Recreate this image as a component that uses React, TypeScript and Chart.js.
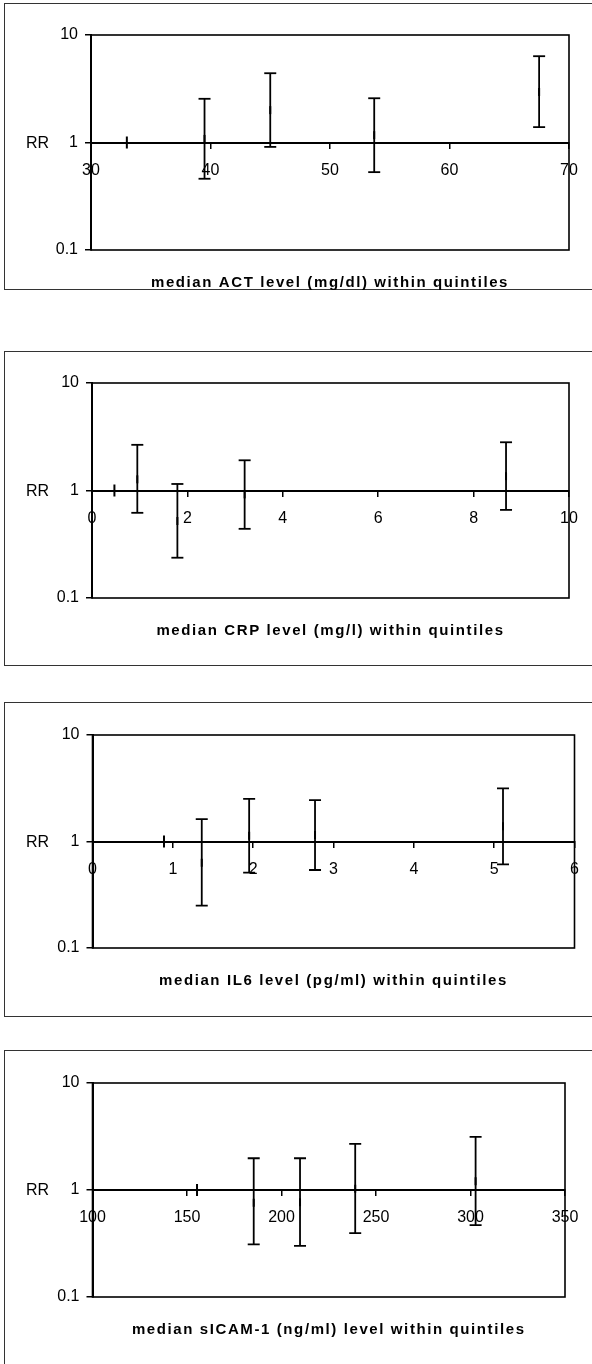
import React, { useEffect, useRef } from "react";
import { Chart, registerables } from "chart.js";

Chart.register(...registerables);

// ---------- data ----------
const yTicks = [0.1, 1, 10];

const actTitle = "median ACT level (mg/dl) within quintiles";
const actXTicks = [30, 40, 50, 60, 70];
const actX = [33, 39.5, 45, 53.7, 67.5];
const actRR = [1, 1.08, 2.0, 1.17, 2.95];
const actLo = [null, 0.46, 0.91, 0.53, 1.39];
const actHi = [null, 2.55, 4.41, 2.58, 6.35];

const crpTitle = "median CRP level (mg/l) within quintiles";
const crpXTicks = [0, 2, 4, 6, 8, 10];
const crpX = [0.47, 0.95, 1.79, 3.2, 8.68];
const crpRR = [1, 1.27, 0.52, 0.92, 1.36];
const crpLo = [null, 0.62, 0.237, 0.44, 0.66];
const crpHi = [null, 2.66, 1.15, 1.91, 2.81];

const il6Title = "median IL6 level (pg/ml) within quintiles";
const il6XTicks = [0, 1, 2, 3, 4, 5, 6];
const il6X = [0.89, 1.36, 1.95, 2.77, 5.11];
const il6RR = [1, 0.63, 1.13, 1.15, 1.39];
const il6Lo = [null, 0.25, 0.51, 0.54, 0.61];
const il6Hi = [null, 1.62, 2.51, 2.45, 3.15];

const icamTitle = "median sICAM-1 (ng/ml) level within quintiles";
const icamXTicks = [100, 150, 200, 250, 300, 350];
const icamX = [155.3, 185.3, 209.8, 239, 302.7];
const icamRR = [1, 0.76, 0.77, 1.03, 1.21];
const icamLo = [null, 0.31, 0.3, 0.395, 0.47];
const icamHi = [null, 1.98, 1.98, 2.7, 3.14];

// ---------- layout ----------
const FONT = 'Arial, "Liberation Sans", sans-serif';

type PanelCfg = {
  title: string;
  xTicks: number[];
  x: number[];
  rr: number[];
  lo: (number | null)[];
  hi: (number | null)[];
  canvasTop: number;
  canvasH: number;
  plotTop: number;
  plotBottom: number;
  plotLeft: number;
  plotRight: number;
};

const panels: PanelCfg[] = [
  { title: actTitle, xTicks: actXTicks, x: actX, rr: actRR, lo: actLo, hi: actHi,
    canvasTop: 0, canvasH: 330, plotTop: 35, plotBottom: 250, plotLeft: 91, plotRight: 569 },
  { title: crpTitle, xTicks: crpXTicks, x: crpX, rr: crpRR, lo: crpLo, hi: crpHi,
    canvasTop: 340, canvasH: 330, plotTop: 383, plotBottom: 598, plotLeft: 92, plotRight: 569 },
  { title: il6Title, xTicks: il6XTicks, x: il6X, rr: il6RR, lo: il6Lo, hi: il6Hi,
    canvasTop: 690, canvasH: 340, plotTop: 735, plotBottom: 948, plotLeft: 92.5, plotRight: 574.5 },
  { title: icamTitle, xTicks: icamXTicks, x: icamX, rr: icamRR, lo: icamLo, hi: icamHi,
    canvasTop: 1040, canvasH: 324, plotTop: 1083, plotBottom: 1297, plotLeft: 92.5, plotRight: 565 },
];

const frames = [
  { top: 3, height: 287 },
  { top: 351, height: 315 },
  { top: 702, height: 315 },
  { top: 1050, height: 400 },
];

function Panel({ cfg }: { cfg: PanelCfg }) {
  const ref = useRef<HTMLCanvasElement | null>(null);
  useEffect(() => {
    const canvas = ref.current;
    if (!canvas) return;

    const points = cfg.x.map((x, i) => ({ x, y: cfg.rr[i] }));
    const errDatasets = cfg.x
      .map((x, i) => ({ x, lo: cfg.lo[i], hi: cfg.hi[i] }))
      .filter((d) => d.lo !== null && d.hi !== null)
      .map((d) => ({
        type: "scatter" as const,
        data: [
          { x: d.x, y: d.lo as number },
          { x: d.x, y: d.hi as number },
        ],
        showLine: true,
        borderColor: "#000",
        borderWidth: 1.8,
        pointStyle: "line" as const,
        pointRadius: 6,
        pointHoverRadius: 6,
        pointBorderColor: "#000",
        pointBorderWidth: 1.8,
        pointBackgroundColor: "#000",
      }));

    const boxPlugin = {
      id: "boxAndText",
      afterDraw(chart: any) {
        const { ctx, chartArea } = chart;
        const ys = chart.scales.y;
        ctx.save();
        ctx.strokeStyle = "#000";
        ctx.lineWidth = 1.6;
        ctx.strokeRect(chartArea.left, chartArea.top, chartArea.right - chartArea.left, chartArea.bottom - chartArea.top);
        // RR label
        ctx.fillStyle = "#000";
        ctx.font = `16px ${FONT}`;
        ctx.textAlign = "left";
        ctx.textBaseline = "middle";
        ctx.fillText("RR", 26, ys.getPixelForValue(1) + 1);
        // x axis title
        ctx.font = `bold 15px ${FONT}`;
        (ctx as any).letterSpacing = "1.6px";
        ctx.textAlign = "center";
        ctx.fillText(cfg.title, (chartArea.left + chartArea.right) / 2, chartArea.bottom + 33);
        ctx.restore();
      },
    };

    const chart = new Chart(canvas, {
      type: "scatter",
      data: {
        datasets: [
          ...errDatasets,
          {
            type: "scatter",
            data: points,
            pointStyle: "line",
            rotation: 90,
            pointRadius: (c: any) => (c.dataIndex === 0 ? 6 : 4),
            pointBorderColor: "#000",
            pointBorderWidth: 2,
            pointBackgroundColor: "#000",
          } as any,
        ],
      },
      options: {
        animation: false,
        responsive: false,
        devicePixelRatio: 1,
        events: [],
        layout: {
          padding: {
            left: 0,
            top: cfg.plotTop - cfg.canvasTop,
            bottom: cfg.canvasTop + cfg.canvasH - cfg.plotBottom,
            right: 592 - cfg.plotRight,
          },
        },
        plugins: { legend: { display: false }, tooltip: { enabled: false }, title: { display: false } },
        scales: {
          x: {
            type: "linear",
            position: { y: 1 } as any,
            min: cfg.xTicks[0],
            max: cfg.xTicks[cfg.xTicks.length - 1],
            afterBuildTicks: (axis: any) => {
              axis.ticks = cfg.xTicks.map((v) => ({ value: v }));
            },
            grid: { display: true, drawOnChartArea: false, drawTicks: true, tickLength: 5, color: "#000", lineWidth: 1.5 },
            border: { display: true, color: "#000", width: 2 },
            ticks: { color: "#000", font: { family: FONT, size: 16 }, padding: 13, maxRotation: 0, autoSkip: false },
          },
          y: {
            type: "logarithmic",
            position: "left",
            min: yTicks[0],
            max: yTicks[yTicks.length - 1],
            afterBuildTicks: (axis: any) => {
              axis.ticks = yTicks.map((v) => ({ value: v }));
            },
            afterFit: (s: any) => {
              s.width = cfg.plotLeft;
            },
            grid: { display: true, drawOnChartArea: false, drawTicks: true, tickLength: 6, color: "#000", lineWidth: 1.5 },
            border: { display: true, color: "#000", width: 2 },
            ticks: {
              color: "#000",
              font: { family: FONT, size: 16 },
              padding: 7,
              autoSkip: false,
              callback: (v: any) => String(v),
            },
          },
        },
      },
      plugins: [boxPlugin],
    } as any);
    return () => chart.destroy();
  }, [cfg]);

  return (
    <canvas
      ref={ref}
      width={592}
      height={cfg.canvasH}
      style={{ position: "absolute", left: 0, top: cfg.canvasTop, width: 592, height: cfg.canvasH }}
    />
  );
}

export default function App() {
  return (
    <div
      style={{
        position: "absolute",
        left: 0,
        top: 0,
        width: 592,
        height: 1364,
        overflow: "hidden",
        background: "#fff",
      }}
    >
      {frames.map((f, i) => (
        <div
          key={"f" + i}
          style={{
            position: "absolute",
            left: 4,
            top: f.top,
            width: 640,
            height: f.height,
            border: "1.5px solid #333",
            boxSizing: "border-box",
          }}
        />
      ))}
      {panels.map((p, i) => (
        <Panel key={i} cfg={p} />
      ))}
    </div>
  );
}
